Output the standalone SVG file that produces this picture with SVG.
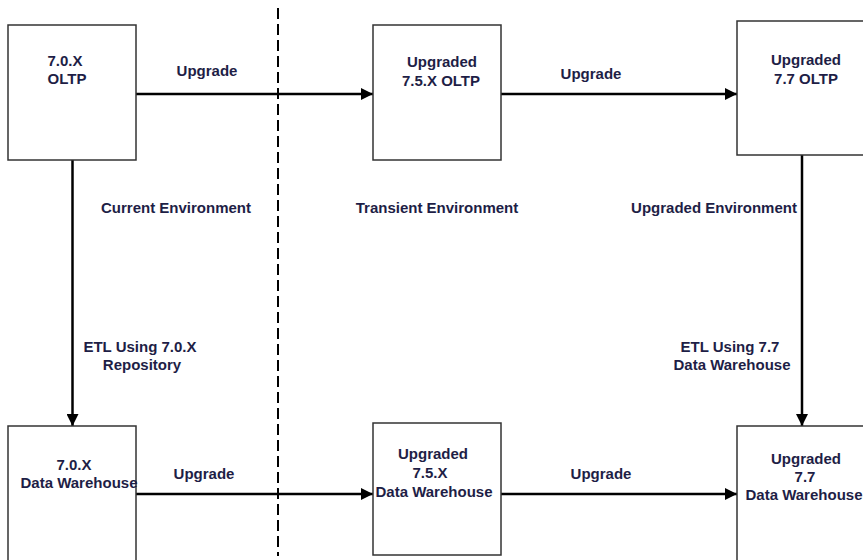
<svg xmlns="http://www.w3.org/2000/svg" width="863" height="560" viewBox="0 0 863 560">
  <style>
    .box { fill: #ffffff; stroke: #333333; stroke-width: 1.5; }
    .lbl { font-family: "Liberation Sans", Arial, sans-serif; font-size: 15px; font-weight: bold; fill: #1e1e46; text-anchor: middle; }
    .conn { stroke: #000000; stroke-width: 2.5; fill: none; }
    .divider { stroke: #000000; stroke-width: 2; stroke-dasharray: 11 5; fill: none; }
  </style>
  <defs>
    <marker id="arrow" markerUnits="userSpaceOnUse" markerWidth="12" markerHeight="12" refX="12" refY="6" orient="auto">
      <path d="M0,0 L12,6 L0,12 Z" fill="#000000"/>
    </marker>
  </defs>
  <rect width="863" height="560" fill="#ffffff"/>

  <!-- environment divider -->
  <line class="divider" x1="278" y1="8" x2="278" y2="556"/>

  <g id="connectors">
    <line class="conn" x1="136" y1="94" x2="373" y2="94" marker-end="url(#arrow)"/>
    <line class="conn" x1="501" y1="94" x2="737" y2="94" marker-end="url(#arrow)"/>
    <line class="conn" x1="72.5" y1="160" x2="72.5" y2="426" marker-end="url(#arrow)"/>
    <line class="conn" x1="802" y1="155" x2="802" y2="426" marker-end="url(#arrow)"/>
    <line class="conn" x1="136" y1="494" x2="373" y2="494" marker-end="url(#arrow)"/>
    <line class="conn" x1="501" y1="494" x2="737" y2="494" marker-end="url(#arrow)"/>
  </g>

  <g id="oltp-70x">
    <rect class="box" x="8" y="25" width="128" height="135"/>
    <text class="lbl" x="65" y="66">7.0.X</text>
    <text class="lbl" x="67" y="84">OLTP</text>
  </g>

  <g id="oltp-75x">
    <rect class="box" x="373" y="25" width="128" height="135"/>
    <text class="lbl" x="442" y="67">Upgraded</text>
    <text class="lbl" x="441" y="86">7.5.X OLTP</text>
  </g>

  <g id="oltp-77">
    <rect class="box" x="737" y="21" width="140" height="134"/>
    <text class="lbl" x="806" y="65">Upgraded</text>
    <text class="lbl" x="806" y="84">7.7 OLTP</text>
  </g>

  <g id="dw-70x">
    <rect class="box" x="8" y="426" width="128" height="150"/>
    <text class="lbl" x="74" y="470">7.0.X</text>
    <text class="lbl" x="79" y="488">Data Warehouse</text>
  </g>

  <g id="dw-75x">
    <rect class="box" x="373" y="423" width="128" height="132"/>
    <text class="lbl" x="433" y="459">Upgraded</text>
    <text class="lbl" x="430" y="478">7.5.X</text>
    <text class="lbl" x="434" y="497">Data Warehouse</text>
  </g>

  <g id="dw-77">
    <rect class="box" x="737" y="426" width="140" height="150"/>
    <text class="lbl" x="806" y="464">Upgraded</text>
    <text class="lbl" x="805" y="482">7.7</text>
    <text class="lbl" x="804" y="500">Data Warehouse</text>
  </g>

  <g id="labels">
    <text class="lbl" x="207" y="76">Upgrade</text>
    <text class="lbl" x="591" y="79">Upgrade</text>
    <text class="lbl" x="204" y="479">Upgrade</text>
    <text class="lbl" x="601" y="479">Upgrade</text>
    <text class="lbl" x="176" y="213">Current Environment</text>
    <text class="lbl" x="437" y="213">Transient Environment</text>
    <text class="lbl" x="714" y="213">Upgraded Environment</text>
    <text class="lbl" x="140" y="352">ETL Using 7.0.X</text>
    <text class="lbl" x="142" y="370">Repository</text>
    <text class="lbl" x="730" y="352">ETL Using 7.7</text>
    <text class="lbl" x="732" y="370">Data Warehouse</text>
  </g>
</svg>
